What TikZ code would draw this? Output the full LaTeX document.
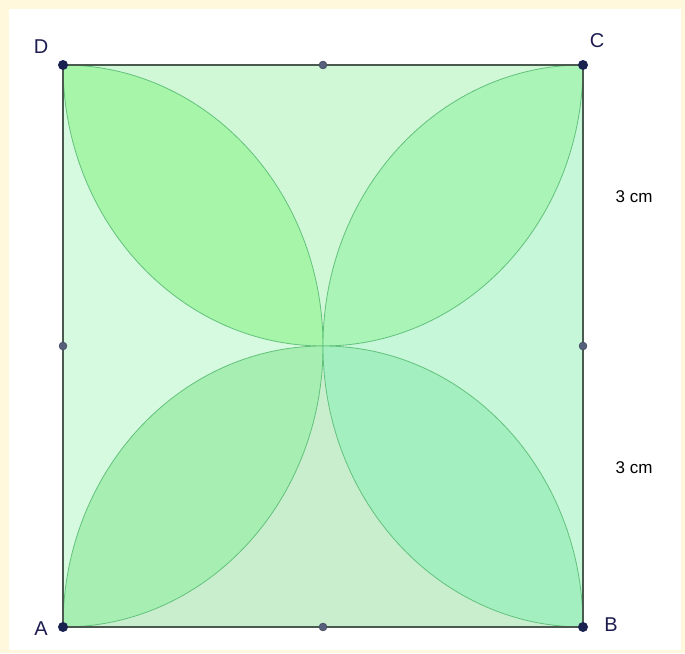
\documentclass[tikz,border=0pt]{standalone}
\usepackage{fontspec}
\setmainfont{Liberation Sans}
\definecolor{cream}{HTML}{FFF8DC}
\definecolor{edge}{HTML}{4A5A4E}
\definecolor{petalline}{HTML}{62C27C}
\definecolor{ptnavy}{HTML}{1A2250}
\definecolor{midpt}{HTML}{56607A}
\definecolor{lbl}{HTML}{1C1C50}
\definecolor{regtop}{HTML}{D0F8D6}
\definecolor{regleft}{HTML}{D6FADF}
\definecolor{regright}{HTML}{C6F7D8}
\definecolor{regbottom}{HTML}{C8EECE}
\definecolor{ptl}{HTML}{A6F5A9}
\definecolor{ptr}{HTML}{A9F4B6}
\definecolor{pbl}{HTML}{A6EEB1}
\definecolor{pbr}{HTML}{A3EFBF}
\tikzset{
  petal/.style={draw=petalline, line width=0.8pt},
  side/.style={draw=edge, line width=1.6pt},
  cornerpt/.style={circle, fill=ptnavy, inner sep=0pt, minimum size=10pt},
  midpoint/.style={circle, fill=midpt, draw=midpt!70!black, line width=0.4pt, inner sep=0pt, minimum size=8pt},
  vlabel/.style={text=lbl, font=\fontsize{20}{20}\selectfont},
  dimlabel/.style={text=black, font=\fontsize{17}{17}\selectfont}
}
\begin{document}
\begin{tikzpicture}[x=1pt,y=1pt]
\useasboundingbox (0,0) rectangle (685,653);
\fill[cream] (0,0) rectangle (685,653);
\fill[white] (9,3) rectangle (681,644);
% key points
\coordinate (A) at (63,26);
\coordinate (B) at (583,26);
\coordinate (C) at (583,588);
\coordinate (D) at (63,588);
\coordinate (O) at (323,307);
% square regions
\fill[regtop] (D) -- (C) -- (O) -- cycle;
\fill[regright] (C) -- (B) -- (O) -- cycle;
\fill[regbottom] (B) -- (A) -- (O) -- cycle;
\fill[regleft] (A) -- (D) -- (O) -- cycle;
% petals
\path[petal, fill=ptl] (D) arc[start angle=90, end angle=0, x radius=260pt, y radius=281pt]
  arc[start angle=270, end angle=180, x radius=260pt, y radius=281pt] -- cycle;
\path[petal, fill=ptr] (C) arc[start angle=90, end angle=180, x radius=260pt, y radius=281pt]
  arc[start angle=270, end angle=360, x radius=260pt, y radius=281pt] -- cycle;
\path[petal, fill=pbl] (A) arc[start angle=-90, end angle=0, x radius=260pt, y radius=281pt]
  arc[start angle=90, end angle=180, x radius=260pt, y radius=281pt] -- cycle;
\path[petal, fill=pbr] (B) arc[start angle=270, end angle=180, x radius=260pt, y radius=281pt]
  arc[start angle=90, end angle=0, x radius=260pt, y radius=281pt] -- cycle;
% sides
\draw[side] (A) -- (B) -- (C) -- (D) -- cycle;
% midpoints
\node[midpoint] (mt) at (323,588) {};
\node[midpoint] (ml) at (63,307) {};
\node[midpoint] (mr) at (583,307) {};
\node[midpoint] (mb) at (323,26) {};
% corners
\node[cornerpt] (pA) at (A) {};
\node[cornerpt] (pB) at (B) {};
\node[cornerpt] (pC) at (C) {};
\node[cornerpt] (pD) at (D) {};
% labels
\node[vlabel] (lD) at (41,606) {D};
\node[vlabel] (lC) at (597,612) {C};
\node[vlabel] (lA) at (41,24) {A};
\node[vlabel] (lB) at (611,28) {B};
\node[dimlabel] (d1) at (634,456) {3 cm};
\node[dimlabel] (d2) at (634,185) {3 cm};
\end{tikzpicture}
\end{document}
